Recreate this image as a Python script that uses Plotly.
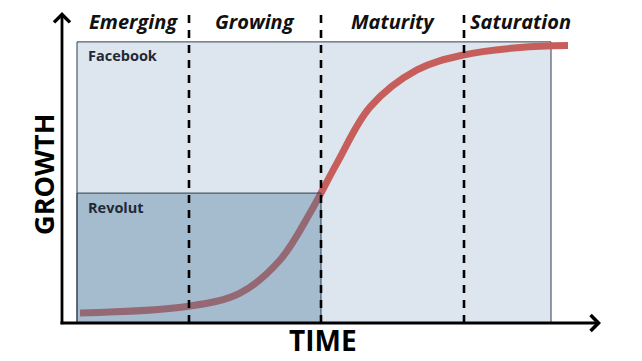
import plotly.graph_objects as go

# ---- data ----
stage_names = ["Emerging", "Growing", "Maturity", "Saturation"]
stage_centers = [7.1, 19.3, 33.05, 45.8]
stage_boundaries = [12.7, 25.9, 40.2]

curve_t = [1.8, 12.5, 17.8, 21.8, 24.8, 27.5, 30.8, 35.5, 40.1, 45.8, 50.6]
curve_g = [3.6, 5.9, 10.7, 22.5, 39.3, 57.1, 77.1, 90.4, 95.7, 98.4, 99.1]

companies = ["Facebook", "Revolut"]
company_t0 = [1.5, 1.5]
company_t1 = [48.9, 25.9]
company_g1 = [100.4, 46.4]
company_fill = ["#dde6ee", "rgba(70,122,155,0.38)"]
company_layer = ["below", "above"]

x_axis_end = 53.9
y_axis_end = 111.1
dash_top = 110.4
label_g = 107.6

fig = go.Figure()

shapes = []
for i, name in enumerate(companies):
    shapes.append(dict(type="rect", xref="x", yref="y",
                       x0=company_t0[i], x1=company_t1[i], y0=0, y1=company_g1[i],
                       fillcolor=company_fill[i], line=dict(color="#2c3e50", width=1),
                       layer=company_layer[i]))
for b in stage_boundaries:
    shapes.append(dict(type="line", xref="x", yref="y", x0=b, x1=b, y0=0, y1=dash_top,
                       line=dict(color="black", width=2.6, dash="8px,7px"), layer="above"))

fig.add_trace(go.Scatter(x=curve_t, y=curve_g, mode="lines",
                         line=dict(color="#c65f5c", width=7, shape="spline", smoothing=1.0),
                         hoverinfo="skip", showlegend=False))

annotations = []
# axis arrows
annotations.append(dict(x=x_axis_end, y=0, ax=-0.3, ay=0, xref="x", yref="y", axref="x", ayref="y",
                        showarrow=True, arrowhead=4, arrowsize=1.1, arrowwidth=2.8, arrowcolor="black", text=""))
annotations.append(dict(x=0, y=y_axis_end, ax=0, ay=-1.0, xref="x", yref="y", axref="x", ayref="y",
                        showarrow=True, arrowhead=4, arrowsize=1.1, arrowwidth=2.8, arrowcolor="black", text=""))
for name, c in zip(stage_names, stage_centers):
    annotations.append(dict(x=c, y=label_g, xref="x", yref="y", text="<b><i>%s</i></b>" % name,
                            showarrow=False, font=dict(family="Open Sans", size=20, color="#111")))
for i, name in enumerate(companies):
    annotations.append(dict(x=company_t0[i] + 0.9, y=company_g1[i] - 5, xref="x", yref="y",
                            text="<b>%s</b>" % name, showarrow=False, xanchor="left",
                            font=dict(family="Open Sans", size=14.5, color="#1f2a36")))
annotations.append(dict(x=26.1, y=-13.2, xref="x", yref="y", text="<b>TIME</b>", showarrow=False,
                        borderpad=0, yanchor="bottom",
                        font=dict(family="Open Sans", size=28, color="black", weight=800)))
annotations.append(dict(x=-1.8, y=52.9, xref="x", yref="y", text="<b>GROWTH</b>", showarrow=False,
                        textangle=-90, borderpad=0,
                        font=dict(family="Open Sans", size=27, color="black", weight=800)))

fig.update_layout(
    width=642, height=361, margin=dict(l=0, r=0, t=0, b=0),
    paper_bgcolor="white", plot_bgcolor="white",
    xaxis=dict(range=[-6.2, 58.0], visible=False, fixedrange=True),
    yaxis=dict(range=[-13.571, 115.357], visible=False, fixedrange=True),
    shapes=shapes, annotations=annotations, showlegend=False,
)

fig.write_html("out.html")
